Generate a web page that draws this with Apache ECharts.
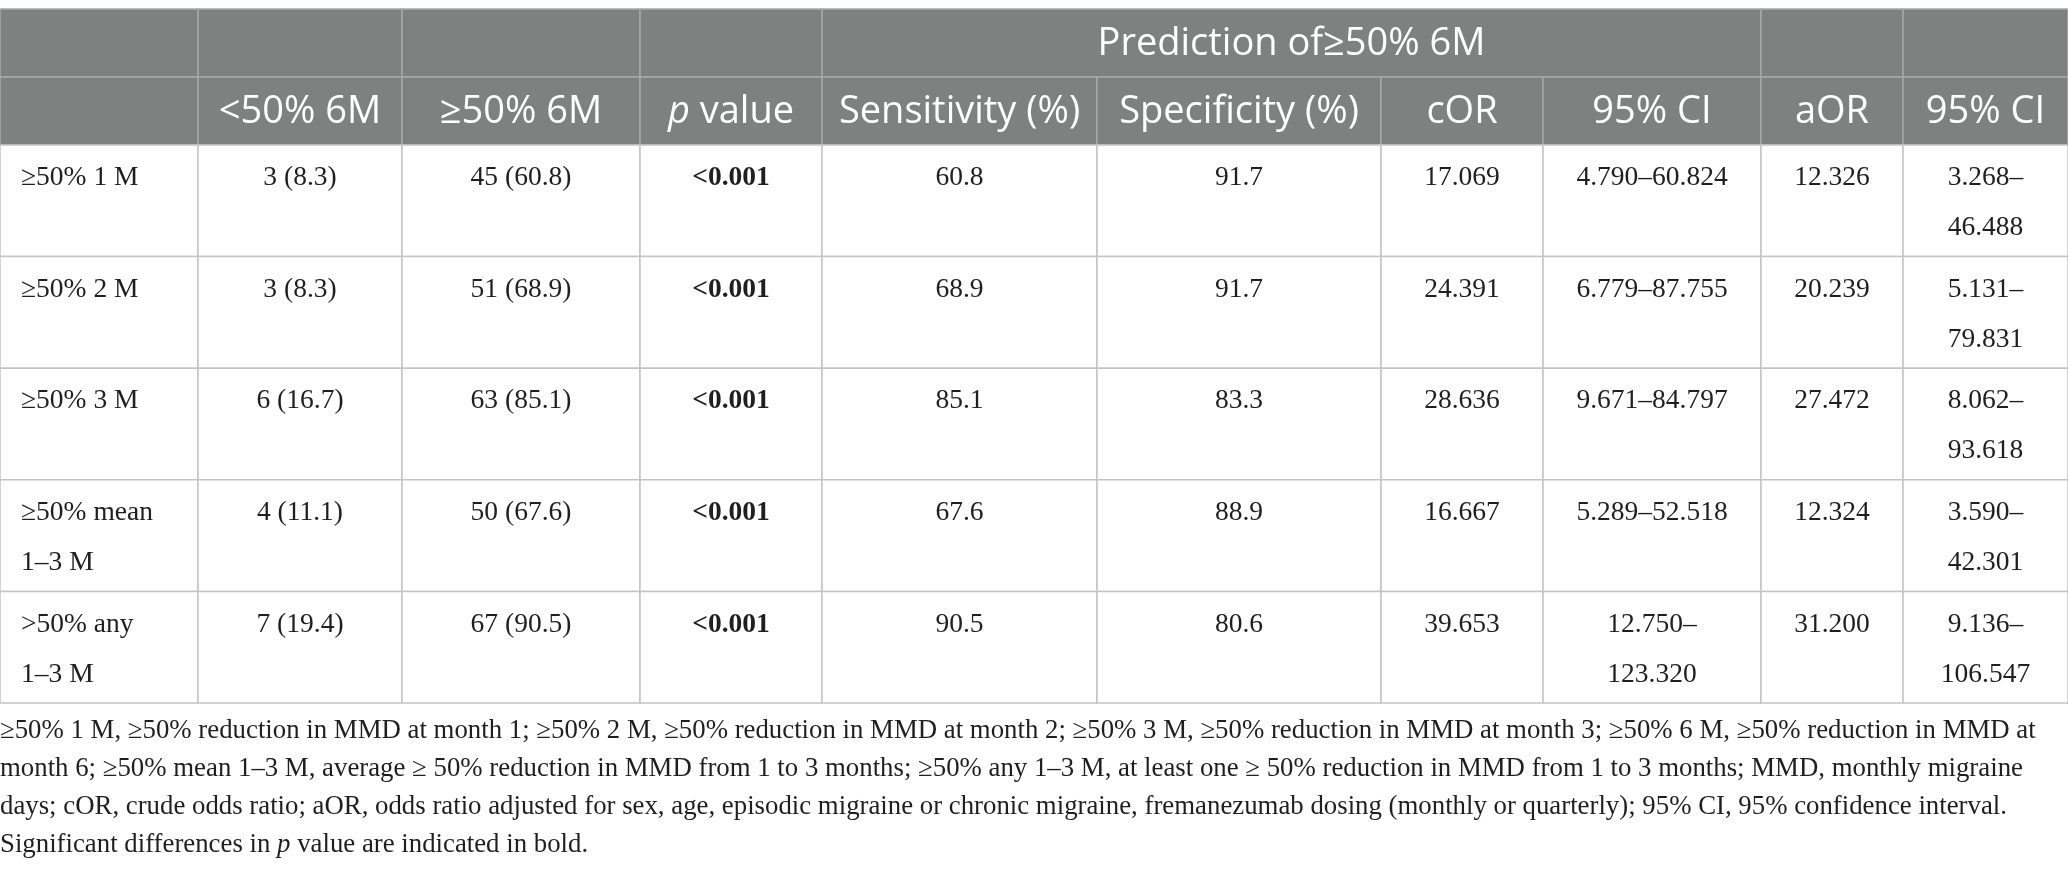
<!DOCTYPE html>
<html>
<head>
<meta charset="utf-8">
<title>Prediction of ≥50% 6M</title>
<script src="https://cdn.jsdelivr.net/npm/echarts/dist/echarts.min.js"></script>
<style>
  html, body { margin: 0; padding: 0; background: #fff; }
  #main { width: 2068px; height: 872px; }
</style>
</head>
<body>
<div id="main"></div>
<script>
// ---- table contents ----
const groupTitle = 'Prediction of≥50% 6M';
const columnNames = ['', '<50% 6M', '≥50% 6M', '{i|p} value', 'Sensitivity (%)', 'Specificity (%)', 'cOR', '95% CI', 'aOR', '95% CI'];
const rowLabels = ['≥50% 1 M', '≥50% 2 M', '≥50% 3 M', '≥50% mean 1–3 M', '>50% any 1–3 M'];
const below50n = [3, 3, 6, 4, 7];
const below50pct = [8.3, 8.3, 16.7, 11.1, 19.4];
const above50n = [45, 51, 63, 50, 67];
const above50pct = [60.8, 68.9, 85.1, 67.6, 90.5];
const pValues = ['<0.001', '<0.001', '<0.001', '<0.001', '<0.001'];
const sensitivity = [60.8, 68.9, 85.1, 67.6, 90.5];
const specificity = [91.7, 91.7, 83.3, 88.9, 80.6];
const cOR = [17.069, 24.391, 28.636, 16.667, 39.653];
const cORLow = [4.790, 6.779, 9.671, 5.289, 12.750];
const cORHigh = [60.824, 87.755, 84.797, 52.518, 123.320];
const aOR = [12.326, 20.239, 27.472, 12.324, 31.200];
const aORLow = [3.268, 5.131, 8.062, 3.590, 9.136];
const aORHigh = [46.488, 79.831, 93.618, 42.301, 106.547];
const footnoteLines = [
    '≥50% 1 M, ≥50% reduction in MMD at month 1; ≥50% 2 M, ≥50% reduction in MMD at month 2; ≥50% 3 M, ≥50% reduction in MMD at month 3; ≥50% 6 M, ≥50% reduction in MMD at',
    'month 6; ≥50% mean 1–3 M, average ≥ 50% reduction in MMD from 1 to 3 months; ≥50% any 1–3 M, at least one ≥ 50% reduction in MMD from 1 to 3 months; MMD, monthly migraine',
    'days; cOR, crude odds ratio; aOR, odds ratio adjusted for sex, age, episodic migraine or chronic migraine, fremanezumab dosing (monthly or quarterly); 95% CI, 95% confidence interval.',
    'Significant differences in {i|p} value are indicated in bold.'
];

// ---- layout ----
const colWidths = [198, 204, 238, 182, 275, 284, 162, 218, 142, 165];
const groupSpan = [4, 8];          // group header covers columns 4..7
const HEADER_BG = '#7f8180';
const HEADER_LINE = '#a8a8a8';
const GRID_LINE = '#c4c4c4';
const TEXT = '#1f1f1f';
const SANS = '"Open Sans", "Noto Sans", sans-serif';
const SERIF = '"Liberation Serif", "Times New Roman", serif';
const HEAD_SIZE = 38;
const BODY_SIZE = 27.5;
const NOTE_SIZE = 26.8;
const PAD = 26;                    // used only to decide where cell text wraps

const edges = colWidths.reduce((acc, w) => { acc.push(acc[acc.length - 1] + w); return acc; }, [0]);
const tableWidth = edges[edges.length - 1];

const measureCtx = document.createElement('canvas').getContext('2d');
function textWidth(s, font) {
    measureCtx.font = font;
    return measureCtx.measureText(s).width;
}
// wrap on spaces only
function wrapWords(s, maxW, font) {
    let words = s.split(' ');
    let lines = [];
    let cur = '';
    words.forEach(w => {
        let tryLine = cur ? cur + ' ' + w : w;
        if (cur && textWidth(tryLine, font) > maxW) {
            lines.push(cur);
            cur = w;
        } else {
            cur = tryLine;
        }
    });
    if (cur) lines.push(cur);
    return lines;
}
// confidence interval: break after the dash when it does not fit
function wrapCI(lo, hi, maxW, font) {
    let full = lo + '–' + hi;
    if (textWidth(full, font) <= maxW) return [full];
    return [lo + '–', hi];
}

// ---- header cells ----
let headerData = [];
let headerCells = [];
for (let c = 0; c < colWidths.length; c++) {
    if (c > groupSpan[0] && c < groupSpan[1]) continue;
    if (c === groupSpan[0]) {
        headerData.push([groupSpan[0], groupSpan[1], 0]);
        headerCells.push(groupTitle);
    } else {
        headerData.push([c, c + 1, 0]);
        headerCells.push('');
    }
}
columnNames.forEach((name, c) => {
    headerData.push([c, c + 1, 1]);
    headerCells.push(name);
});

// ---- body cells ----
let bodyData = [];
let bodyCells = [];
rowLabels.forEach((label, r) => {
    let row = [
        { text: label, align: 'left' },
        { text: below50n[r] + ' (' + below50pct[r].toFixed(1) + ')' },
        { text: above50n[r] + ' (' + above50pct[r].toFixed(1) + ')' },
        { text: pValues[r], bold: true },
        { text: sensitivity[r].toFixed(1) },
        { text: specificity[r].toFixed(1) },
        { text: cOR[r].toFixed(3) },
        { ci: [cORLow[r].toFixed(3), cORHigh[r].toFixed(3)] },
        { text: aOR[r].toFixed(3) },
        { ci: [aORLow[r].toFixed(3), aORHigh[r].toFixed(3)] }
    ];
    row.forEach((cell, c) => {
        bodyData.push([c, c + 1, r]);
        bodyCells.push(cell);
    });
});

function cellBox(api) {
    let p0 = api.coord([edges[api.value(0)], api.value(2)]);
    let p1 = api.coord([edges[api.value(1)], api.value(2)]);
    let h = api.size([0, 1])[1];
    return { x: p0[0], y: p0[1] - h / 2, width: p1[0] - p0[0], height: h };
}

function renderHeader(params, api) {
    let box = cellBox(api);
    return {
        type: 'group',
        children: [
            { type: 'rect', shape: box, style: { fill: HEADER_BG, stroke: HEADER_LINE, lineWidth: 1.5 } },
            {
                type: 'text',
                style: {
                    text: headerCells[params.dataIndex],
                    x: box.x + box.width / 2,
                    y: box.y + box.height / 2 + 1,
                    align: 'center',
                    verticalAlign: 'middle',
                    fontFamily: SANS,
                    fontSize: HEAD_SIZE,
                    fill: '#ffffff',
                    rich: { i: { fontFamily: SANS, fontSize: HEAD_SIZE, fontStyle: 'italic', fill: '#ffffff' } }
                }
            }
        ]
    };
}

function renderBody(params, api) {
    let box = cellBox(api);
    let cell = bodyCells[params.dataIndex];
    let weight = cell.bold ? 'bold' : 'normal';
    let font = weight + ' ' + BODY_SIZE + 'px ' + SERIF;
    let lines = cell.ci
        ? wrapCI(cell.ci[0], cell.ci[1], box.width - 2 * PAD, font)
        : wrapWords(cell.text, box.width - 2 * PAD, font);
    let left = cell.align === 'left';
    return {
        type: 'group',
        children: [
            { type: 'rect', shape: box, style: { fill: '#ffffff', stroke: GRID_LINE, lineWidth: 1.5 } },
            {
                type: 'text',
                style: {
                    text: lines.join('\n'),
                    x: left ? box.x + 21 : box.x + box.width / 2,
                    y: box.y + 8,
                    align: left ? 'left' : 'center',
                    verticalAlign: 'top',
                    fontFamily: SERIF,
                    fontSize: BODY_SIZE,
                    fontWeight: weight,
                    lineHeight: 50,
                    fill: TEXT
                }
            }
        ]
    };
}

let chart = echarts.init(document.getElementById('main'));
let option = {
    animation: false,
    title: {
        text: footnoteLines.join('\n'),
        left: 0,
        top: 712,
        padding: 0,
        textStyle: {
            fontFamily: SERIF,
            fontSize: NOTE_SIZE,
            fontWeight: 'normal',
            color: TEXT,
            lineHeight: 38,
            rich: { i: { fontFamily: SERIF, fontSize: NOTE_SIZE, fontStyle: 'italic', color: TEXT, lineHeight: 38 } }
        }
    },
    grid: [
        { left: 0, top: 9, width: tableWidth, height: 136 },
        { left: 0, top: 145, width: tableWidth, height: 558 }
    ],
    xAxis: [
        { type: 'value', gridIndex: 0, min: 0, max: tableWidth, show: false },
        { type: 'value', gridIndex: 1, min: 0, max: tableWidth, show: false }
    ],
    yAxis: [
        { type: 'category', gridIndex: 0, data: ['group', 'columns'], inverse: true, show: false },
        { type: 'category', gridIndex: 1, data: rowLabels, inverse: true, show: false }
    ],
    series: [
        {
            type: 'custom',
            xAxisIndex: 0,
            yAxisIndex: 0,
            encode: { x: [0, 1], y: 2 },
            clip: false,
            renderItem: renderHeader,
            data: headerData
        },
        {
            type: 'custom',
            xAxisIndex: 1,
            yAxisIndex: 1,
            encode: { x: [0, 1], y: 2 },
            clip: false,
            renderItem: renderBody,
            data: bodyData
        }
    ]
};
chart.setOption(option);
</script>
</body>
</html>
